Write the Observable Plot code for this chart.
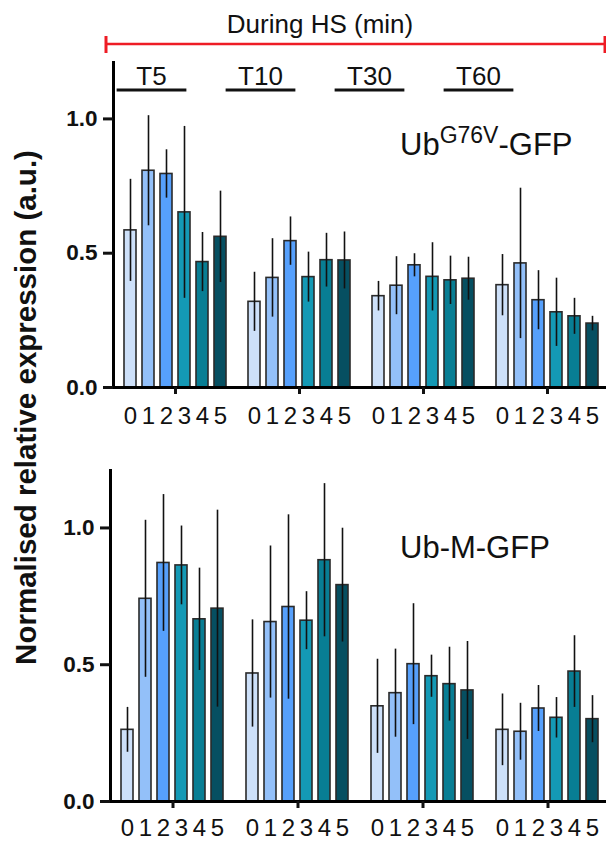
<!DOCTYPE html>
<html>
<head>
<meta charset="utf-8">
<script src="https://cdn.jsdelivr.net/npm/d3@7"></script>
<script src="https://cdn.jsdelivr.net/npm/@observablehq/plot@0.6"></script>
<style>
  body { margin: 0; background: #fff; }
  #fig { position: relative; width: 606px; height: 841px; overflow: hidden; background: #fff;
         font-family: "Liberation Sans", Arial, sans-serif; }
  #fig .panel { position: absolute; left: 0; }
  #fig svg.overlay { position: absolute; left: 0; top: 0; pointer-events: none; }
</style>
</head>
<body>
<div id="fig"></div>
<script>
// ---- data ----
const timepoints = ["T5", "T10", "T30", "T60"];
const samples = [0, 1, 2, 3, 4, 5];
const sampleColors = ["#cde0f9", "#93c0f9", "#56a0fc", "#1499b5", "#087e94", "#064f61"];
const yTicks = [0, 0.5, 1.0];

// Ub(G76V)-GFP, one row per timepoint (T5, T10, T30, T60), one value per sample 0..5
const g76vMean = [
  [0.585, 0.807, 0.795, 0.652, 0.467, 0.561],
  [0.319, 0.408, 0.545, 0.411, 0.474, 0.473],
  [0.340, 0.379, 0.455, 0.412, 0.399, 0.405],
  [0.381, 0.462, 0.325, 0.280, 0.265, 0.238]
];
const g76vErr = [
  [0.190, 0.205, 0.090, 0.320, 0.110, 0.170],
  [0.110, 0.146, 0.090, 0.093, 0.100, 0.106],
  [0.055, 0.108, 0.043, 0.127, 0.090, 0.080],
  [0.114, 0.280, 0.110, 0.127, 0.067, 0.027]
];
// Ub-M-GFP
const ubmMean = [
  [0.262, 0.741, 0.872, 0.863, 0.666, 0.705],
  [0.468, 0.656, 0.711, 0.661, 0.882, 0.791],
  [0.348, 0.396, 0.502, 0.458, 0.429, 0.406],
  [0.262, 0.255, 0.340, 0.306, 0.475, 0.301]
];
const ubmErr = [
  [0.082, 0.287, 0.250, 0.144, 0.187, 0.360],
  [0.196, 0.278, 0.337, 0.106, 0.280, 0.208],
  [0.172, 0.161, 0.221, 0.077, 0.135, 0.179],
  [0.131, 0.104, 0.084, 0.074, 0.131, 0.086]
];

const titleText = "During HS (min)";
const yLabelText = "Normalised relative expression (a.u.)";

// ---- build ----
const FONT = '"Liberation Sans", Arial, sans-serif';
const fig = document.getElementById("fig");

function rows(means, errs) {
  const out = [];
  timepoints.forEach((t, i) => samples.forEach((s, j) => out.push({t, s, v: means[i][j], e: errs[i][j]})));
  return out;
}

function panel(means, errs, opts) {
  const data = rows(means, errs);
  const p = Plot.plot({
    width: 610,
    height: opts.height,
    marginLeft: opts.marginLeft,
    marginRight: 0,
    marginTop: opts.marginTop,
    marginBottom: opts.marginBottom,
    style: {maxWidth: "none", background: "transparent", overflow: "visible", fontFamily: FONT, color: "#111"},
    fx: {domain: timepoints, padding: 0, axis: null},
    x: {domain: samples, paddingInner: 0.32, paddingOuter: 0.465, axis: null},
    y: {domain: [0, 1.21], axis: null},
    color: {domain: samples, range: sampleColors},
    marks: [
      Plot.barY(data, {fx: "t", x: "s", y: "v", fill: "s", stroke: "#2a2a2a", strokeWidth: 1.6, inset: 0}),
      Plot.ruleX(data, {fx: "t", x: "s", y1: d => d.v - d.e, y2: d => d.v + d.e, stroke: "#111", strokeWidth: 1.6}),
      Plot.ruleY([0], {stroke: "#000", strokeWidth: 3}),
      Plot.frame({anchor: "left", facetAnchor: "left", stroke: "#000", strokeWidth: 3}),
      Plot.axisY({ticks: yTicks, tickFormat: d => d.toFixed(1), tickSize: 10, tickPadding: 6,
                  strokeWidth: 3, fontSize: 22.5, fontWeight: "bold", label: null}),
      Plot.axisX({tickSize: 0, tickPadding: opts.digitPad, fontSize: 24, label: null, tickFormat: d => String(d)}),
      Plot.axisFx({anchor: "bottom", tickSize: 7, strokeWidth: 3, tickFormat: () => "", label: null})
    ]
  });
  p.classList.add("panel");
  p.style.top = opts.top + "px";
  return p;
}

fig.appendChild(panel(g76vMean, g76vErr, {top: 50, height: 385, marginTop: 12, marginBottom: 48, marginLeft: 112, digitPad: 19}));
fig.appendChild(panel(ubmMean, ubmErr, {top: 458, height: 383, marginTop: 12, marginBottom: 40, marginLeft: 109, digitPad: 17}));

// ---- overlay annotations (title, HS bracket, timepoint headers, panel names, y label) ----
const svg = d3.select(fig).append("svg")
  .attr("class", "overlay").attr("width", 606).attr("height", 841)
  .style("font-family", FONT);

svg.append("text").attr("x", 320).attr("y", 33).attr("text-anchor", "middle")
  .attr("font-size", 26).attr("fill", "#111").text(titleText);

const red = "#ee1c25";
svg.append("line").attr("x1", 106).attr("x2", 612).attr("y1", 44).attr("y2", 44)
  .attr("stroke", red).attr("stroke-width", 2.6);
svg.append("line").attr("x1", 106).attr("x2", 106).attr("y1", 36).attr("y2", 53)
  .attr("stroke", red).attr("stroke-width", 3);
svg.append("line").attr("x1", 605).attr("x2", 605).attr("y1", 36).attr("y2", 53)
  .attr("stroke", red).attr("stroke-width", 3);

const hx = d3.scaleBand().domain(timepoints).range([97, 533]).paddingInner(0.36).paddingOuter(0.18);
const hg = svg.append("g").selectAll("g").data(timepoints).join("g");
hg.append("text").attr("x", d => hx(d) + hx.bandwidth() / 2).attr("y", 85)
  .attr("text-anchor", "middle").attr("font-size", 26).attr("fill", "#111").text(d => d);
hg.append("line").attr("x1", d => hx(d)).attr("x2", d => hx(d) + hx.bandwidth())
  .attr("y1", 90).attr("y2", 90).attr("stroke", "#111").attr("stroke-width", 3);

const l1 = svg.append("text").attr("x", 400).attr("y", 155).attr("font-size", 31).attr("fill", "#111");
l1.append("tspan").text("Ub");
l1.append("tspan").attr("font-size", 23).attr("dy", -12).text("G76V");
l1.append("tspan").attr("dy", 12).text("-GFP");

svg.append("text").attr("x", 400).attr("y", 558).attr("font-size", 31).attr("fill", "#111").text("Ub-M-GFP");

svg.append("text").attr("transform", "translate(36,407.5) rotate(-90)")
  .attr("text-anchor", "middle").attr("font-size", 29.5).attr("font-weight", "bold")
  .attr("fill", "#111").text(yLabelText);
</script>
</body>
</html>
